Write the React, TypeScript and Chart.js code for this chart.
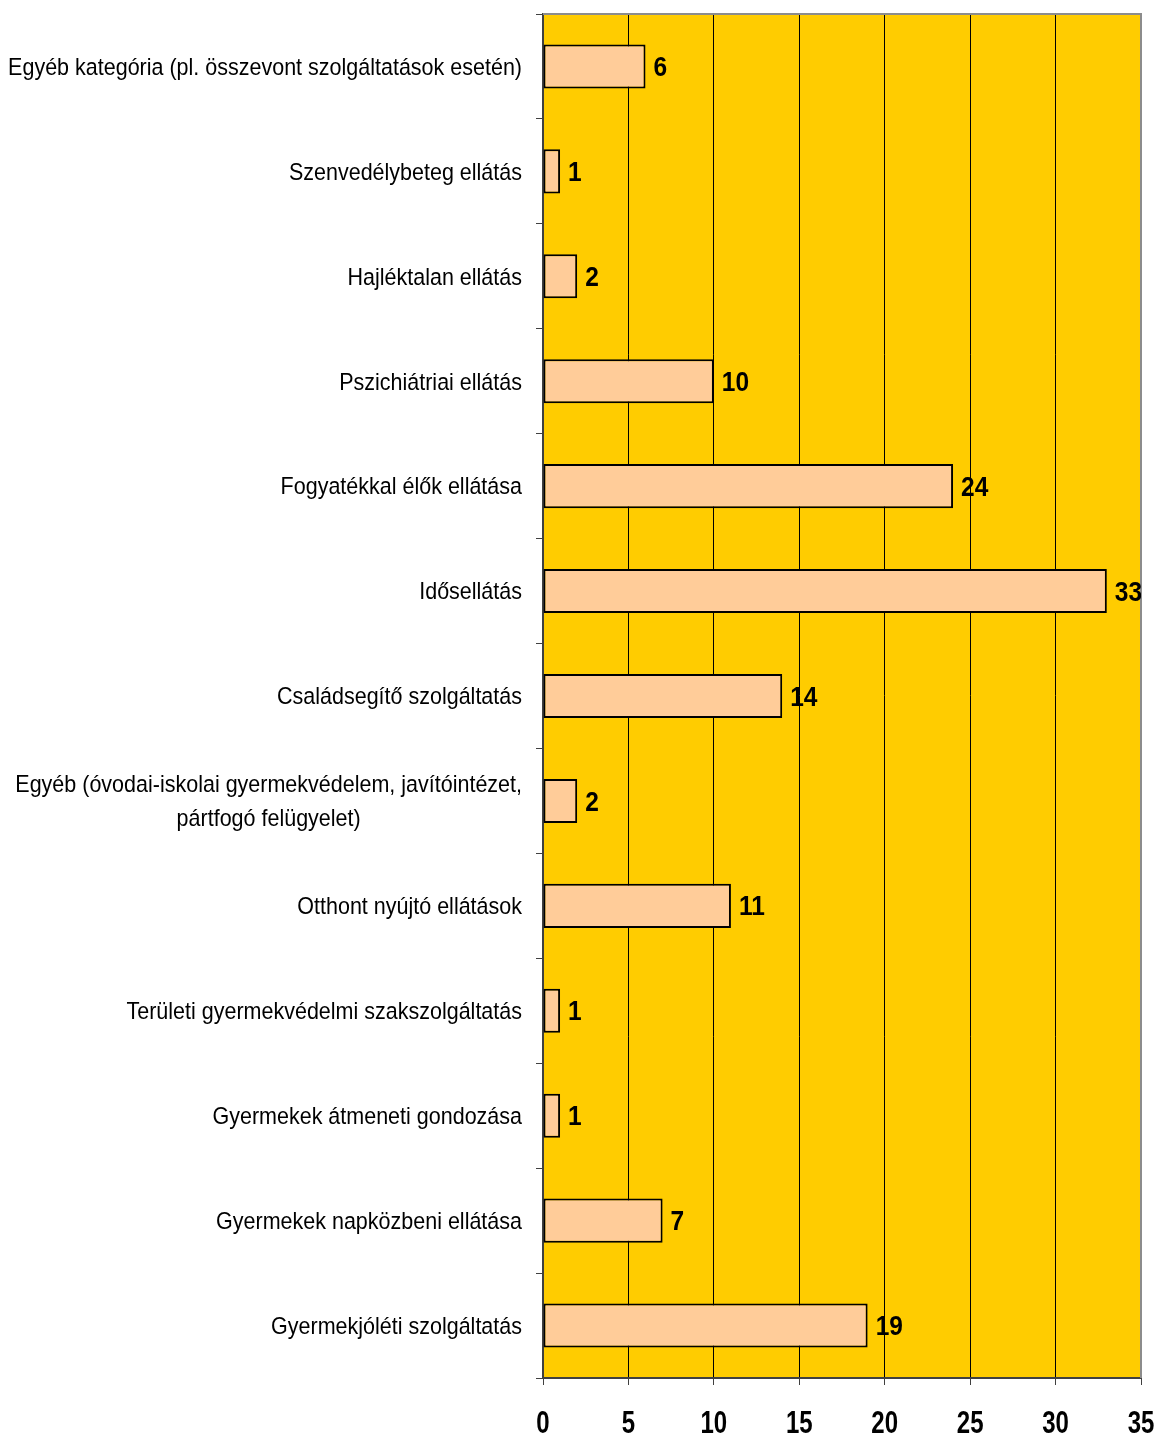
import React, { useEffect, useRef } from "react";
import { Chart, registerables } from "chart.js";

Chart.register(...registerables);

// Service categories, listed top to bottom
const categories: (string | string[])[] = [
  "Egyéb kategória (pl. összevont szolgáltatások esetén)",
  "Szenvedélybeteg ellátás",
  "Hajléktalan ellátás",
  "Pszichiátriai ellátás",
  "Fogyatékkal élők ellátása",
  "Idősellátás",
  "Családsegítő szolgáltatás",
  ["Egyéb (óvodai-iskolai gyermekvédelem, javítóintézet,", "pártfogó felügyelet)"],
  "Otthont nyújtó ellátások",
  "Területi gyermekvédelmi szakszolgáltatás",
  "Gyermekek átmeneti gondozása",
  "Gyermekek napközbeni ellátása",
  "Gyermekjóléti szolgáltatás",
];

// Number of providers per category
const counts: number[] = [6, 1, 2, 10, 24, 33, 14, 2, 11, 1, 1, 7, 19];

// Value axis
const xMin = 0;
const xMax = 35;
const xStep = 5;

const FONT = "'Liberation Sans', Arial, sans-serif";

// draws text drawn a little taller than its natural proportions
function tallText(ctx: CanvasRenderingContext2D, text: string, x: number, baseline: number, stretch: number) {
  ctx.save();
  ctx.translate(x, baseline);
  ctx.scale(1, stretch);
  ctx.fillText(text, 0, 0);
  ctx.restore();
}

const drawTextPlugin = {
  id: "customText",
  beforeDraw(chart: any) {
    const { ctx, chartArea } = chart;
    ctx.save();
    ctx.fillStyle = "#FFCC00";
    ctx.fillRect(chartArea.left, chartArea.top, chartArea.right - chartArea.left, chartArea.bottom - chartArea.top);
    ctx.restore();
  },
  afterDraw(chart: any) {
    const { ctx, chartArea } = chart;
    const xScale = chart.scales.x;
    const yScale = chart.scales.y;

    // top and right frame of the plot area
    ctx.save();
    ctx.strokeStyle = "#8c8c8c";
    ctx.lineWidth = 2;
    ctx.beginPath();
    ctx.moveTo(chartArea.left, chartArea.top);
    ctx.lineTo(chartArea.right, chartArea.top);
    ctx.lineTo(chartArea.right, chartArea.bottom);
    ctx.stroke();
    ctx.restore();

    // category labels, each block right-aligned, lines centered within it
    ctx.save();
    ctx.fillStyle = "#000";
    ctx.font = `21.5px ${FONT}`;
    ctx.textBaseline = "alphabetic";
    ctx.textAlign = "center";
    const rightEdge = chartArea.left - 21;
    const lineGap = 34;
    const catStretch = 1.08;
    const catCap = 21.5 * 0.716 * catStretch;
    categories.forEach((label, i) => {
      const lines = Array.isArray(label) ? label : [label];
      const cy = yScale.getPixelForValue(i);
      const maxW = Math.max(...lines.map((l) => ctx.measureText(l).width));
      const cx = rightEdge - maxW / 2;
      lines.forEach((line, j) => {
        const y = cy + (j - (lines.length - 1) / 2) * lineGap;
        tallText(ctx, line, cx, y + catCap / 2, catStretch);
      });
    });
    ctx.restore();

    // value labels next to the bars
    ctx.save();
    ctx.beginPath();
    ctx.rect(0, 0, chartArea.right, chart.height);
    ctx.clip();
    ctx.fillStyle = "#000";
    ctx.font = `bold 24.5px ${FONT}`;
    ctx.textAlign = "left";
    ctx.textBaseline = "alphabetic";
    const valStretch = 1.1;
    const valCap = 24.5 * 0.716 * valStretch;
    counts.forEach((v, i) => {
      const x = xScale.getPixelForValue(v) + 8;
      const cy = yScale.getPixelForValue(i);
      tallText(ctx, String(v), x, cy + valCap / 2, valStretch);
    });
    ctx.restore();

    // value axis tick labels
    ctx.save();
    ctx.fillStyle = "#000";
    ctx.font = `bold 24px ${FONT}`;
    ctx.textAlign = "center";
    ctx.textBaseline = "alphabetic";
    const tickStretch = 1.32;
    const tickCap = 24 * 0.716 * tickStretch;
    for (let v = xMin; v <= xMax; v += xStep) {
      const x = xScale.getPixelForValue(v);
      tallText(ctx, String(v), x, chartArea.bottom + 32 + tickCap, tickStretch);
    }
    ctx.restore();
  },
};

export default function App() {
  const canvasRef = useRef<HTMLCanvasElement | null>(null);

  useEffect(() => {
    const canvas = canvasRef.current;
    if (!canvas) return;
    const chart = new Chart(canvas, {
      type: "bar",
      data: {
        labels: categories.map((c) => (Array.isArray(c) ? c.join(" ") : c)),
        datasets: [
          {
            data: counts,
            backgroundColor: "#FFCC99",
            borderColor: "#000000",
            borderWidth: 2,
            borderSkipped: false,
            barPercentage: 0.42,
            categoryPercentage: 1,
          },
        ],
      },
      options: {
        indexAxis: "y",
        animation: false,
        responsive: false,
        devicePixelRatio: 1,
        layout: { padding: { top: 14, right: 19, left: 0, bottom: 0 } },
        plugins: {
          legend: { display: false },
          tooltip: { enabled: false },
        },
        scales: {
          x: {
            type: "linear",
            min: xMin,
            max: xMax,
            ticks: { stepSize: xStep, color: "transparent", font: { size: 1 } },
            grid: {
              color: "#000000",
              lineWidth: 1,
              tickLength: 7,
              tickColor: "#404040",
            },
            border: { color: "#404040", width: 2 },
            afterFit: (scale: any) => {
              scale.height = 57;
            },
          },
          y: {
            type: "category",
            offset: true,
            ticks: { color: "transparent", font: { size: 1 } },
            grid: {
              offset: true,
              drawOnChartArea: false,
              tickLength: 7,
              color: "#404040",
            },
            border: { color: "#404040", width: 2 },
            afterFit: (scale: any) => {
              scale.width = 543;
            },
          },
        },
      },
      plugins: [drawTextPlugin],
    });
    return () => chart.destroy();
  }, []);

  return (
    <div style={{ position: "absolute", left: 0, top: 0, width: 1160, height: 1435, background: "#fff" }}>
      <canvas ref={canvasRef} width={1160} height={1435} style={{ display: "block" }} />
    </div>
  );
}
